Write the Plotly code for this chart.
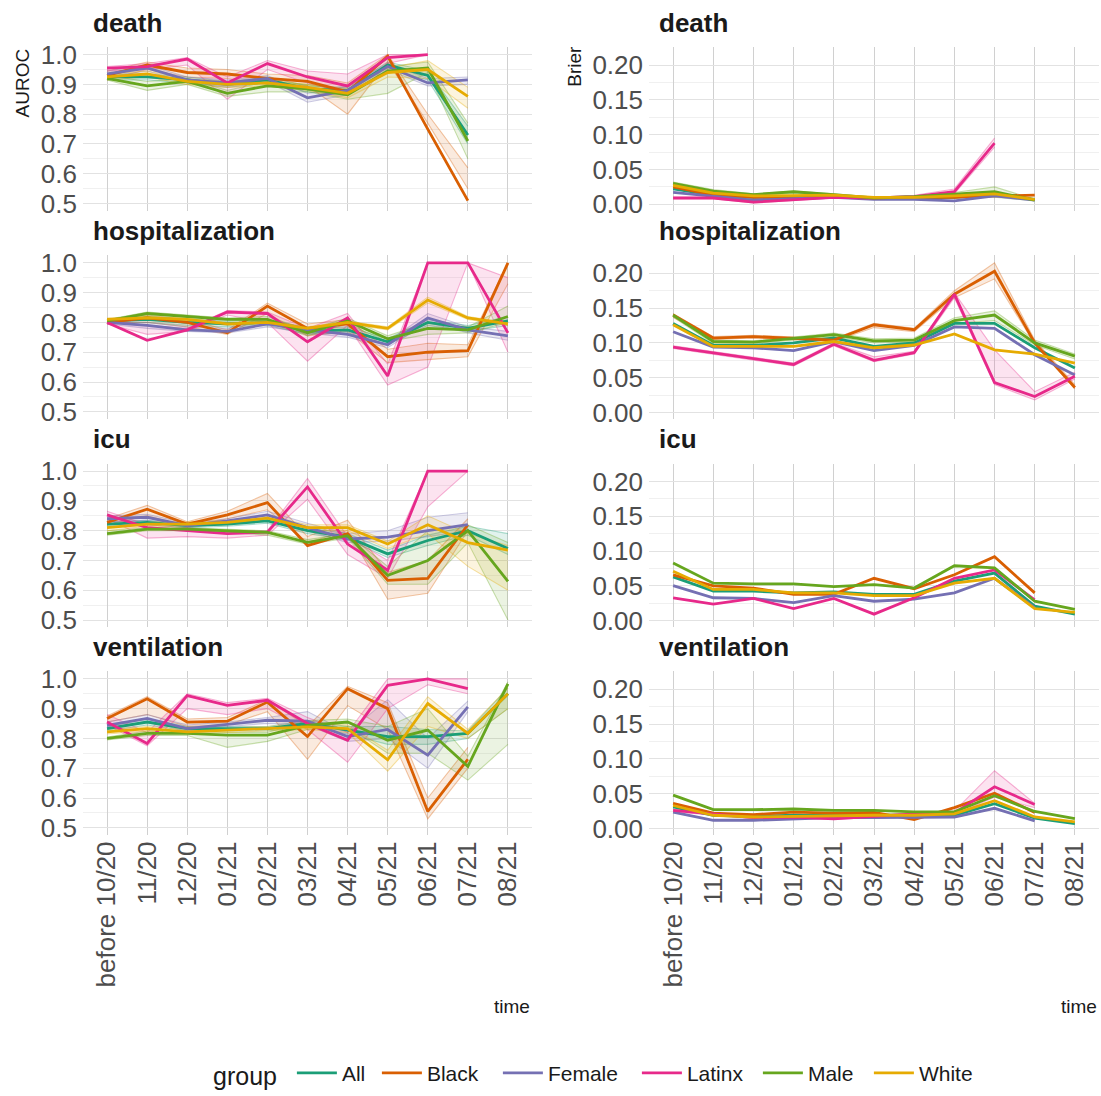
import plotly.graph_objects as go

# ---------------------------------------------------------------- categories
TIME = ["before 10/20", "11/20", "12/20", "01/21", "02/21", "03/21",
        "04/21", "05/21", "06/21", "07/21", "08/21"]
GROUPS = ["All", "Black", "Female", "Latinx", "Male", "White"]
OUTCOMES = ["death", "hospitalization", "icu", "ventilation"]
AUROC_TICKS = [0.5, 0.6, 0.7, 0.8, 0.9, 1.0]
BRIER_TICKS = [0.00, 0.05, 0.10, 0.15, 0.20]

# ---------------------------------------------------------------- AUROC, death
AUROC_DEATH_ALL = [0.925, 0.925, 0.915, 0.90, 0.915, 0.885, 0.88, 0.965, 0.93, 0.73, None]
AUROC_DEATH_BLACK = [0.93, 0.965, 0.94, 0.935, 0.92, 0.91, 0.875, 0.995, 0.75, 0.51, None]
AUROC_DEATH_FEMALE = [0.935, 0.955, 0.915, 0.905, 0.92, 0.855, 0.88, 0.96, 0.905, 0.915, None]
AUROC_DEATH_LATINX = [0.955, 0.96, 0.985, 0.905, 0.97, 0.925, 0.895, 0.99, 1.0, None, None]
AUROC_DEATH_MALE = [0.92, 0.895, 0.91, 0.87, 0.895, 0.885, 0.865, 0.945, 0.955, 0.71, None]
AUROC_DEATH_WHITE = [0.925, 0.935, 0.91, 0.90, 0.905, 0.89, 0.87, 0.94, 0.95, 0.86, None]
# bootstrap replicates (low / high)
AUROC_DEATH_ALL_LO = [0.915, 0.915, 0.905, 0.89, 0.905, 0.875, 0.865, 0.95, 0.915, 0.70, None]
AUROC_DEATH_ALL_HI = [0.935, 0.935, 0.925, 0.91, 0.925, 0.895, 0.89, 0.975, 0.945, 0.76, None]
AUROC_DEATH_BLACK_LO = [0.915, 0.95, 0.925, 0.92, 0.90, 0.895, 0.80, 0.975, 0.77, 0.55, None]
AUROC_DEATH_BLACK_HI = [0.945, 0.975, 0.955, 0.95, 0.935, 0.93, 0.905, 1.0, 0.80, 0.62, None]
AUROC_DEATH_FEMALE_LO = [0.925, 0.945, 0.905, 0.895, 0.91, 0.84, 0.865, 0.95, 0.895, 0.90, None]
AUROC_DEATH_FEMALE_HI = [0.945, 0.965, 0.925, 0.915, 0.93, 0.87, 0.895, 0.97, 0.92, 0.925, None]
AUROC_DEATH_LATINX_LO = [0.945, 0.95, 0.965, 0.85, 0.95, 0.905, 0.87, 0.97, 1.0, None, None]
AUROC_DEATH_LATINX_HI = [0.96, 0.97, 0.99, 0.925, 0.98, 0.945, 0.935, 1.0, 1.0, None, None]
AUROC_DEATH_MALE_LO = [0.915, 0.88, 0.90, 0.86, 0.875, 0.875, 0.85, 0.87, 0.94, 0.65, None]
AUROC_DEATH_MALE_HI = [0.93, 0.91, 0.92, 0.88, 0.91, 0.90, 0.88, 0.96, 0.975, 0.77, None]
AUROC_DEATH_WHITE_LO = [0.915, 0.925, 0.90, 0.89, 0.895, 0.88, 0.855, 0.925, 0.92, 0.82, None]
AUROC_DEATH_WHITE_HI = [0.935, 0.945, 0.92, 0.91, 0.915, 0.90, 0.885, 0.955, 0.98, 0.89, None]

# ------------------------------------------------------- AUROC, hospitalization
AUROC_HOSP_ALL = [0.805, 0.81, 0.80, 0.795, 0.80, 0.77, 0.775, 0.735, 0.80, 0.78, 0.805]
AUROC_HOSP_BLACK = [0.80, 0.815, 0.80, 0.765, 0.855, 0.78, 0.795, 0.685, 0.70, 0.705, 1.0]
AUROC_HOSP_FEMALE = [0.80, 0.79, 0.775, 0.77, 0.795, 0.775, 0.76, 0.725, 0.815, 0.775, 0.755]
AUROC_HOSP_LATINX = [0.80, 0.74, 0.775, 0.835, 0.83, 0.735, 0.815, 0.62, 1.0, 1.0, 0.765]
AUROC_HOSP_MALE = [0.805, 0.83, 0.82, 0.81, 0.81, 0.765, 0.805, 0.745, 0.78, 0.775, 0.82]
AUROC_HOSP_WHITE = [0.81, 0.815, 0.81, 0.795, 0.80, 0.78, 0.80, 0.78, 0.875, 0.815, 0.795]
AUROC_HOSP_ALL_LO = [0.80, 0.80, 0.79, 0.785, 0.79, 0.76, 0.765, 0.725, 0.79, 0.77, 0.79]
AUROC_HOSP_ALL_HI = [0.81, 0.82, 0.81, 0.805, 0.81, 0.78, 0.785, 0.745, 0.81, 0.79, 0.82]
AUROC_HOSP_BLACK_LO = [0.795, 0.80, 0.785, 0.76, 0.83, 0.755, 0.77, 0.665, 0.675, 0.685, 0.93]
AUROC_HOSP_BLACK_HI = [0.81, 0.825, 0.81, 0.775, 0.865, 0.795, 0.81, 0.71, 0.73, 0.725, 1.0]
AUROC_HOSP_FEMALE_LO = [0.795, 0.78, 0.77, 0.765, 0.785, 0.765, 0.75, 0.715, 0.80, 0.765, 0.74]
AUROC_HOSP_FEMALE_HI = [0.805, 0.80, 0.785, 0.78, 0.805, 0.785, 0.77, 0.735, 0.83, 0.785, 0.77]
AUROC_HOSP_LATINX_LO = [0.795, 0.76, 0.77, 0.825, 0.80, 0.67, 0.79, 0.59, 0.65, 1.0, 0.70]
AUROC_HOSP_LATINX_HI = [0.81, 0.79, 0.78, 0.84, 0.835, 0.78, 0.83, 0.66, 1.0, 1.0, 0.95]
AUROC_HOSP_MALE_LO = [0.80, 0.82, 0.81, 0.80, 0.80, 0.755, 0.795, 0.735, 0.76, 0.765, 0.80]
AUROC_HOSP_MALE_HI = [0.81, 0.835, 0.825, 0.815, 0.82, 0.775, 0.815, 0.755, 0.80, 0.785, 0.855]
AUROC_HOSP_WHITE_LO = [0.805, 0.81, 0.805, 0.79, 0.795, 0.775, 0.795, 0.775, 0.865, 0.81, 0.79]
AUROC_HOSP_WHITE_HI = [0.815, 0.82, 0.815, 0.80, 0.805, 0.785, 0.805, 0.785, 0.885, 0.82, 0.80]

# ------------------------------------------------------------------ AUROC, icu
AUROC_ICU_ALL = [0.822, 0.828, 0.817, 0.822, 0.833, 0.80, 0.778, 0.722, 0.767, 0.80, 0.74]
AUROC_ICU_BLACK = [0.828, 0.872, 0.822, 0.853, 0.894, 0.75, 0.79, 0.633, 0.64, 0.82, None]
AUROC_ICU_FEMALE = [0.84, 0.845, 0.817, 0.833, 0.853, 0.81, 0.772, 0.778, 0.80, 0.82, None]
AUROC_ICU_LATINX = [0.853, 0.81, 0.80, 0.79, 0.795, 0.947, 0.755, 0.667, 1.0, 1.0, None]
AUROC_ICU_MALE = [0.79, 0.805, 0.805, 0.80, 0.794, 0.761, 0.783, 0.65, 0.70, 0.80, 0.63]
AUROC_ICU_WHITE = [0.81, 0.822, 0.822, 0.828, 0.842, 0.81, 0.81, 0.755, 0.82, 0.76, 0.735]
AUROC_ICU_ALL_LO = [0.815, 0.82, 0.81, 0.815, 0.825, 0.79, 0.77, 0.71, 0.75, 0.785, 0.72]
AUROC_ICU_ALL_HI = [0.83, 0.835, 0.825, 0.83, 0.84, 0.81, 0.79, 0.735, 0.785, 0.815, 0.79]
AUROC_ICU_BLACK_LO = [0.82, 0.85, 0.815, 0.84, 0.87, 0.76, 0.80, 0.57, 0.59, 0.80, None]
AUROC_ICU_BLACK_HI = [0.84, 0.885, 0.83, 0.865, 0.925, 0.78, 0.835, 0.66, 0.70, 0.84, None]
AUROC_ICU_FEMALE_LO = [0.83, 0.835, 0.81, 0.825, 0.845, 0.80, 0.76, 0.765, 0.78, 0.80, None]
AUROC_ICU_FEMALE_HI = [0.85, 0.855, 0.825, 0.84, 0.865, 0.825, 0.79, 0.80, 0.845, 0.86, None]
AUROC_ICU_LATINX_LO = [0.84, 0.775, 0.78, 0.775, 0.785, 0.905, 0.72, 0.64, 0.88, 1.0, None]
AUROC_ICU_LATINX_HI = [0.865, 0.82, 0.81, 0.80, 0.80, 0.975, 0.78, 0.70, 1.0, 1.0, None]
AUROC_ICU_MALE_LO = [0.785, 0.80, 0.80, 0.795, 0.785, 0.755, 0.775, 0.62, 0.62, 0.76, 0.50]
AUROC_ICU_MALE_HI = [0.80, 0.81, 0.81, 0.805, 0.80, 0.77, 0.79, 0.68, 0.80, 0.82, 0.76]
AUROC_ICU_WHITE_LO = [0.80, 0.815, 0.815, 0.82, 0.835, 0.80, 0.80, 0.74, 0.79, 0.68, 0.60]
AUROC_ICU_WHITE_HI = [0.82, 0.83, 0.83, 0.835, 0.85, 0.82, 0.82, 0.765, 0.85, 0.79, 0.75]

# ---------------------------------------------------------- AUROC, ventilation
AUROC_VENT_ALL = [0.833, 0.855, 0.833, 0.833, 0.833, 0.85, 0.828, 0.806, 0.806, 0.817, 0.95]
AUROC_VENT_BLACK = [0.867, 0.933, 0.855, 0.858, 0.922, 0.806, 0.967, 0.90, 0.555, 0.73, None]
AUROC_VENT_FEMALE = [0.844, 0.867, 0.833, 0.848, 0.861, 0.858, 0.806, 0.83, 0.744, 0.906, None]
AUROC_VENT_LATINX = [0.855, 0.783, 0.944, 0.911, 0.928, 0.85, 0.794, 0.978, 1.0, 0.967, None]
AUROC_VENT_MALE = [0.80, 0.817, 0.817, 0.811, 0.811, 0.844, 0.855, 0.794, 0.828, 0.706, 0.983]
AUROC_VENT_WHITE = [0.822, 0.833, 0.822, 0.828, 0.833, 0.839, 0.833, 0.728, 0.917, 0.817, 0.95]
AUROC_VENT_ALL_LO = [0.825, 0.845, 0.825, 0.825, 0.825, 0.84, 0.815, 0.78, 0.78, 0.80, 0.90]
AUROC_VENT_ALL_HI = [0.84, 0.865, 0.84, 0.84, 0.84, 0.86, 0.84, 0.84, 0.83, 0.825, 0.97]
AUROC_VENT_BLACK_LO = [0.855, 0.88, 0.84, 0.845, 0.89, 0.73, 0.91, 0.83, 0.53, 0.70, None]
AUROC_VENT_BLACK_HI = [0.875, 0.94, 0.865, 0.87, 0.93, 0.84, 0.975, 0.92, 0.60, 0.77, None]
AUROC_VENT_FEMALE_LO = [0.835, 0.855, 0.825, 0.84, 0.85, 0.845, 0.79, 0.80, 0.70, 0.89, None]
AUROC_VENT_FEMALE_HI = [0.855, 0.88, 0.845, 0.855, 0.87, 0.89, 0.82, 0.93, 0.80, 0.925, None]
AUROC_VENT_LATINX_LO = [0.845, 0.775, 0.90, 0.88, 0.90, 0.83, 0.72, 0.90, 0.98, 0.95, None]
AUROC_VENT_LATINX_HI = [0.88, 0.82, 0.95, 0.92, 0.935, 0.87, 0.82, 1.0, 1.0, 1.0, None]
AUROC_VENT_MALE_LO = [0.795, 0.81, 0.81, 0.77, 0.79, 0.83, 0.84, 0.75, 0.75, 0.66, 0.78]
AUROC_VENT_MALE_HI = [0.805, 0.825, 0.825, 0.82, 0.82, 0.86, 0.865, 0.84, 0.90, 0.74, 0.99]
AUROC_VENT_WHITE_LO = [0.815, 0.825, 0.815, 0.82, 0.825, 0.83, 0.82, 0.69, 0.84, 0.80, 0.90]
AUROC_VENT_WHITE_HI = [0.83, 0.84, 0.83, 0.835, 0.84, 0.85, 0.845, 0.76, 0.94, 0.83, 0.97]

# ---------------------------------------------------------------- Brier, death
BRIER_DEATH_ALL = [0.022, 0.013, 0.010, 0.011, 0.011, 0.009, 0.009, 0.010, 0.014, 0.007, None]
BRIER_DEATH_BLACK = [0.025, 0.013, 0.010, 0.010, 0.010, 0.010, 0.010, 0.010, 0.012, 0.013, None]
BRIER_DEATH_FEMALE = [0.017, 0.011, 0.006, 0.008, 0.010, 0.007, 0.007, 0.005, 0.012, 0.006, None]
BRIER_DEATH_LATINX = [0.009, 0.009, 0.003, 0.007, 0.010, 0.009, 0.011, 0.018, 0.088, None, None]
BRIER_DEATH_MALE = [0.030, 0.019, 0.014, 0.018, 0.014, 0.009, 0.011, 0.014, 0.018, 0.006, None]
BRIER_DEATH_WHITE = [0.027, 0.016, 0.012, 0.013, 0.013, 0.010, 0.010, 0.012, 0.015, 0.007, None]
BRIER_DEATH_LATINX_LO = [0.008, 0.008, 0.002, 0.006, 0.009, 0.008, 0.010, 0.015, 0.082, None, None]
BRIER_DEATH_LATINX_HI = [0.010, 0.010, 0.004, 0.008, 0.011, 0.010, 0.013, 0.022, 0.095, None, None]
BRIER_DEATH_MALE_LO = [0.028, 0.017, 0.012, 0.016, 0.013, 0.008, 0.010, 0.011, 0.010, 0.005, None]
BRIER_DEATH_MALE_HI = [0.032, 0.021, 0.015, 0.019, 0.015, 0.010, 0.012, 0.017, 0.025, 0.007, None]

# ------------------------------------------------------- Brier, hospitalization
BRIER_HOSP_ALL = [0.128, 0.0965, 0.0965, 0.100, 0.107, 0.095, 0.100, 0.128, 0.128, 0.093, 0.064]
BRIER_HOSP_BLACK = [0.140, 0.107, 0.109, 0.106, 0.104, 0.126, 0.119, 0.170, 0.203, 0.100, 0.036]
BRIER_HOSP_FEMALE = [0.116, 0.094, 0.093, 0.089, 0.102, 0.089, 0.0965, 0.123, 0.121, 0.083, 0.054]
BRIER_HOSP_LATINX = [0.094, 0.086, 0.078, 0.069, 0.098, 0.075, 0.086, 0.170, 0.043, 0.023, 0.052]
BRIER_HOSP_MALE = [0.140, 0.102, 0.101, 0.107, 0.112, 0.103, 0.104, 0.132, 0.140, 0.100, 0.081]
BRIER_HOSP_WHITE = [0.126, 0.095, 0.095, 0.095, 0.102, 0.093, 0.097, 0.113, 0.090, 0.084, 0.071]
BRIER_HOSP_BLACK_LO = [0.137, 0.105, 0.107, 0.104, 0.102, 0.122, 0.116, 0.165, 0.192, 0.098, 0.034]
BRIER_HOSP_BLACK_HI = [0.142, 0.109, 0.111, 0.108, 0.106, 0.128, 0.121, 0.175, 0.215, 0.104, 0.040]
BRIER_HOSP_LATINX_LO = [0.092, 0.084, 0.076, 0.067, 0.096, 0.073, 0.084, 0.165, 0.040, 0.018, 0.048]
BRIER_HOSP_LATINX_HI = [0.096, 0.088, 0.080, 0.071, 0.100, 0.080, 0.088, 0.172, 0.090, 0.030, 0.058]
BRIER_HOSP_MALE_LO = [0.137, 0.099, 0.099, 0.104, 0.109, 0.100, 0.101, 0.128, 0.132, 0.097, 0.077]
BRIER_HOSP_MALE_HI = [0.142, 0.104, 0.103, 0.109, 0.114, 0.106, 0.107, 0.136, 0.146, 0.104, 0.084]

# ------------------------------------------------------------------ Brier, icu
BRIER_ICU_ALL = [0.063, 0.0425, 0.0425, 0.040, 0.0415, 0.038, 0.038, 0.057, 0.0685, 0.021, 0.0095]
BRIER_ICU_BLACK = [0.066, 0.050, 0.047, 0.038, 0.038, 0.061, 0.046, 0.066, 0.092, 0.040, None]
BRIER_ICU_FEMALE = [0.0505, 0.033, 0.032, 0.026, 0.036, 0.028, 0.031, 0.040, 0.061, 0.019, None]
BRIER_ICU_LATINX = [0.033, 0.024, 0.032, 0.0175, 0.032, 0.0095, 0.033, 0.061, 0.073, 0.030, None]
BRIER_ICU_MALE = [0.083, 0.054, 0.053, 0.053, 0.049, 0.052, 0.047, 0.079, 0.076, 0.028, 0.0165]
BRIER_ICU_WHITE = [0.071, 0.045, 0.045, 0.040, 0.040, 0.036, 0.036, 0.054, 0.061, 0.0175, 0.012]

# ---------------------------------------------------------- Brier, ventilation
BRIER_VENT_ALL = [0.031, 0.019, 0.0175, 0.019, 0.019, 0.019, 0.019, 0.019, 0.0355, 0.015, 0.007]
BRIER_VENT_BLACK = [0.036, 0.022, 0.020, 0.0235, 0.022, 0.023, 0.0128, 0.030, 0.0506, 0.023, None]
BRIER_VENT_FEMALE = [0.0236, 0.0118, 0.0118, 0.014, 0.0156, 0.0156, 0.0156, 0.0165, 0.029, 0.011, None]
BRIER_VENT_LATINX = [0.026, 0.021, 0.0156, 0.0165, 0.014, 0.0175, 0.021, 0.022, 0.060, 0.0345, None]
BRIER_VENT_MALE = [0.048, 0.027, 0.027, 0.028, 0.026, 0.026, 0.024, 0.024, 0.047, 0.0245, 0.014]
BRIER_VENT_WHITE = [0.033, 0.019, 0.0165, 0.0175, 0.0175, 0.019, 0.019, 0.021, 0.040, 0.0165, 0.0095]
BRIER_VENT_LATINX_LO = [0.024, 0.019, 0.014, 0.015, 0.013, 0.016, 0.019, 0.020, 0.045, 0.030, None]
BRIER_VENT_LATINX_HI = [0.028, 0.023, 0.017, 0.018, 0.016, 0.019, 0.023, 0.025, 0.083, 0.036, None]

# ------------------------------------------------------------------ styling
PALETTE = {"All": "#1B9E77", "Black": "#D95F02", "Female": "#7570B3",
           "Latinx": "#E7298A", "Male": "#66A61E", "White": "#E6AB02"}
# width reserved for each legend label (px)
LEGEND_WIDTH = {"All": 30, "Black": 66, "Female": 84, "Latinx": 66,
                "Male": 56, "White": 80}
FONT = "Liberation Sans, Arial, sans-serif"
W, H = 1101, 1096

# -------------------------------------------- assemble panels from the lists
g = globals()
KEYS = {"death": "DEATH", "hospitalization": "HOSP", "icu": "ICU", "ventilation": "VENT"}


def series(metric, outcome, group, suffix=""):
    return g.get(f"{metric}_{KEYS[outcome]}_{group.upper()}{suffix}")


def rgba(hex_color, a):
    h = hex_color.lstrip("#")
    r, gg, b = int(h[0:2], 16), int(h[2:4], 16), int(h[4:6], 16)
    return f"rgba({r},{gg},{b},{a})"


# panel geometry (pixels)
COL_X = {"AUROC": (83, 532), "BRIER": (649, 1099)}
ROW_TOP = [41.0, 253.5, 466.0, 678.0]
PANEL_H = 167.2

fig = go.Figure()

for r, outcome in enumerate(OUTCOMES):
    for c, metric in enumerate(["AUROC", "BRIER"]):
        k = r * 2 + c + 1
        xa, ya = f"x{k}", f"y{k}"
        # spread of the bootstrap replicates underneath
        for grp in GROUPS:
            lo = series(metric, outcome, grp, "_LO")
            hi = series(metric, outcome, grp, "_HI")
            if lo is None or hi is None:
                continue
            fig.add_trace(go.Scatter(
                x=TIME, y=lo, mode="lines", xaxis=xa, yaxis=ya,
                line=dict(color=rgba(PALETTE[grp], 0.35), width=1.1),
                showlegend=False, hoverinfo="skip"))
            fig.add_trace(go.Scatter(
                x=TIME, y=hi, mode="lines", xaxis=xa, yaxis=ya,
                line=dict(color=rgba(PALETTE[grp], 0.35), width=1.1),
                fill="tonexty", fillcolor=rgba(PALETTE[grp], 0.13),
                showlegend=False, hoverinfo="skip"))
        # point estimates on top
        for grp in GROUPS:
            vals = series(metric, outcome, grp)
            fig.add_trace(go.Scatter(
                x=TIME, y=vals, mode="lines", xaxis=xa, yaxis=ya,
                name=grp, legendgroup=grp, showlegend=(k == 1),
                legendwidth=LEGEND_WIDTH[grp],
                line=dict(color=PALETTE[grp], width=2.8)))

        x0, x1 = COL_X[metric]
        top = ROW_TOP[r]
        bottom = top + PANEL_H
        xaxis = dict(
            domain=[x0 / W, x1 / W], anchor=ya, type="category",
            categoryorder="array", categoryarray=TIME, range=[-0.6, 10.6],
            showgrid=True, gridcolor="#D0D0D0", gridwidth=1,
            showline=False, zeroline=False, ticks="",
            showticklabels=(r == 3), tickangle=-90,
            tickfont=dict(family=FONT, size=26, color="#4D4D4D"))
        if metric == "AUROC":
            yaxis = dict(range=[0.475, 1.025], tickvals=AUROC_TICKS,
                         tickformat=".1f",
                         minor=dict(dtick=0.05, tick0=0.5, showgrid=True,
                                    gridcolor="#F0F0F0", gridwidth=1))
        else:
            yaxis = dict(range=[-0.0097, 0.2257], tickvals=BRIER_TICKS,
                         tickformat=".2f",
                         minor=dict(dtick=0.025, tick0=0.0, showgrid=True,
                                    gridcolor="#F0F0F0", gridwidth=1))
        yaxis.update(
            domain=[1 - bottom / H, 1 - top / H], anchor=xa,
            showgrid=True, gridcolor="#E2E2E2", gridwidth=1.2,
            zeroline=False, showline=False, ticks="", ticklabelstandoff=5,
            tickfont=dict(family=FONT, size=26, color="#4D4D4D"))
        fig.layout[f"xaxis{k if k > 1 else ''}"] = xaxis
        fig.layout[f"yaxis{k if k > 1 else ''}"] = yaxis

annotations = []
for r, outcome in enumerate(OUTCOMES):
    for x_left in (91, 657):
        annotations.append(dict(
            text=f"<b>{outcome}</b>", x=x_left / W, y=1 - (ROW_TOP[r] - 25) / H,
            xref="paper", yref="paper", xanchor="left", yanchor="middle",
            showarrow=False, font=dict(family=FONT, size=26, color="#1A1A1A")))

annotations += [
    dict(text="AUROC", x=22 / W, y=1 - 78 / H, xref="paper", yref="paper",
         textangle=-90, showarrow=False, xanchor="center", yanchor="middle",
         font=dict(family=FONT, size=19, color="#1A1A1A")),
    dict(text="Brier", x=575 / W, y=1 - 61 / H, xref="paper", yref="paper",
         textangle=-90, showarrow=False, xanchor="center", yanchor="middle",
         font=dict(family=FONT, size=19, color="#1A1A1A")),
    dict(text="time", x=532 / W, y=1 - 1020 / H, xref="paper", yref="paper",
         showarrow=False, xanchor="right", yanchor="middle",
         font=dict(family=FONT, size=19, color="#1A1A1A")),
    dict(text="time", x=1099 / W, y=1 - 1020 / H, xref="paper", yref="paper",
         showarrow=False, xanchor="right", yanchor="middle",
         font=dict(family=FONT, size=19, color="#1A1A1A")),
]

fig.update_layout(
    width=W, height=H, autosize=False,
    margin=dict(l=0, r=0, t=0, b=0),
    paper_bgcolor="white", plot_bgcolor="white",
    font=dict(family=FONT, color="#1A1A1A"),
    annotations=annotations,
    legend=dict(
        orientation="h", x=211 / W, xanchor="left", y=1 - 1089 / H,
        yanchor="middle", itemwidth=40,
        title=dict(text="group ", side="left",
                   font=dict(family=FONT, size=25, color="#1A1A1A")),
        font=dict(family=FONT, size=21, color="#1A1A1A")),
)

fig.write_html("out.html")
